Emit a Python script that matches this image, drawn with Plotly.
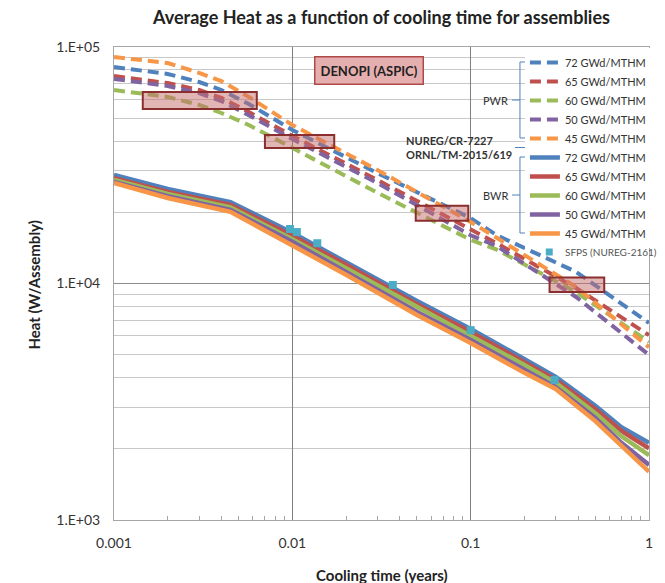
import math
import plotly.graph_objects as go

# ---------------- data ----------------
pwr_years = [0.001, 0.002, 0.003, 0.004, 0.0057, 0.01, 0.03, 0.1, 0.14, 0.39, 1.0]
pwr_72 = [82300, 76900, 71100, 65800, 57400, 44600, 29300, 18900, 16000, 11200, 6810]
pwr_65 = [75400, 70400, 65800, 60900, 53100, 42100, 27400, 16800, 14800, 9570, 6050]
pwr_60 = [65800, 61500, 56900, 52600, 46800, 37400, 24200, 15300, 13900, 9200, 5660]
pwr_50 = [73300, 68400, 63900, 59100, 51500, 40800, 26600, 16000, 14400, 8770, 4990]
pwr_45 = [90700, 85600, 77700, 71800, 61500, 46800, 30200, 18200, 15600, 9660, 5380]

bwr_years = [0.001, 0.002, 0.0045, 0.01, 0.02, 0.05, 0.1, 0.2, 0.3, 0.5, 0.7, 1.0]
bwr_72 = [28800, 25100, 22100, 16400, 12300, 8440, 6430, 4800, 4030, 3040, 2470, 2120]
bwr_65 = [27900, 24400, 21500, 15900, 12000, 8180, 6240, 4660, 3910, 2940, 2380, 2010]
bwr_60 = [27400, 23900, 21000, 15400, 11600, 7960, 6060, 4520, 3800, 2830, 2260, 1880]
bwr_50 = [26900, 23400, 20500, 15000, 11200, 7580, 5770, 4300, 3650, 2700, 2120, 1710]
bwr_45 = [26600, 23000, 20100, 14500, 10900, 7360, 5600, 4190, 3580, 2620, 2060, 1600]

sfps_years = [0.0097, 0.0106, 0.0138, 0.0366, 0.1, 0.296]
sfps_heat = [17000, 16500, 14800, 9860, 6350, 3910]

burnups = ["72 GWd/MTHM", "65 GWd/MTHM", "60 GWd/MTHM", "50 GWd/MTHM", "45 GWd/MTHM"]
colors = ["#4F81BD", "#C0504D", "#9BBB59", "#8064A2", "#F79646"]

# highlighted ranges (DENOPI boxes): x range (years), y range (W)
box_x0 = [0.00145, 0.00702, 0.0492, 0.277]
box_x1 = [0.00632, 0.01718, 0.0970, 0.561]
box_y0 = [54700, 37400, 18400, 9200]
box_y1 = [64500, 42500, 21300, 10600]

x_ticks = [0.001, 0.01, 0.1, 1]
x_ticktext = ["0.001", "0.01", "0.1", "1"]
y_ticks = [1e3, 1e4, 1e5]
y_ticktext = ["1.E+03", "1.E+04", "1.E+05"]

# ---------------- geometry helpers ----------------
W, H = 665, 583
L, R, T, B = 114, 653, 47, 520
XR = (-3, 0)
YR = (3, 5)


def px_x(px):
    return (px - L) / (R - L)


def px_y(py):
    return 1 - (py - T) / (B - T)


def dx(v):
    return (math.log10(v) - XR[0]) / (XR[1] - XR[0])


def dy(v):
    return (math.log10(v) - YR[0]) / (YR[1] - YR[0])


FONT = "Lato, 'Open Sans', Arial, sans-serif"

fig = go.Figure()

pwr_sets = [pwr_72, pwr_65, pwr_60, pwr_50, pwr_45]
bwr_sets = [bwr_72, bwr_65, bwr_60, bwr_50, bwr_45]

for name, col, ys in zip(burnups, colors, pwr_sets):
    fig.add_trace(go.Scatter(
        x=pwr_years, y=ys, mode="lines", name=name,
        line=dict(color=col, width=4, dash="11px,6px"),
        legendgroup="pwr"))

for name, col, ys in zip(burnups, colors, bwr_sets):
    fig.add_trace(go.Scatter(
        x=bwr_years, y=ys, mode="lines", name=name,
        line=dict(color=col, width=4.5),
        legendgroup="bwr"))

fig.add_trace(go.Scatter(
    x=sfps_years, y=sfps_heat, mode="markers", name="SFPS (NUREG-2161)",
    marker=dict(symbol="square", size=8, color="#4BACC6"), showlegend=False))

shapes = []
for a, b, c, d in zip(box_x0, box_x1, box_y0, box_y1):
    shapes.append(dict(type="rect", xref="paper", yref="paper",
                       x0=dx(a), x1=dx(b), y0=dy(c), y1=dy(d),
                       fillcolor="rgba(200,110,110,0.5)",
                       line=dict(color="#8B2E2E", width=2), layer="above"))

# brackets next to the legend
bc = "#4F81BD"


def seg(x0, y0, x1, y1):
    return dict(type="line", xref="paper", yref="paper",
                x0=px_x(x0), y0=px_y(y0), x1=px_x(x1), y1=px_y(y1),
                line=dict(color=bc, width=1), layer="above")


pwr_top, pwr_bot = 62, 138
bwr_top, bwr_bot = 157, 233
bx = 523
shapes += [
    seg(bx, pwr_top, bx, pwr_bot), seg(bx, pwr_top, 531, pwr_top), seg(bx, pwr_bot, 531, pwr_bot),
    seg(515, (pwr_top + pwr_bot) / 2, bx, (pwr_top + pwr_bot) / 2),
    seg(bx, bwr_top, bx, bwr_bot), seg(bx, bwr_top, 531, bwr_top), seg(bx, bwr_bot, 531, bwr_bot),
    seg(515, (bwr_top + bwr_bot) / 2, bx, (bwr_top + bwr_bot) / 2),
    seg(518, (pwr_bot + bwr_top) / 2, 528, (pwr_bot + bwr_top) / 2),
]
# SFPS legend marker
sf_y = 252
shapes.append(dict(type="rect", xref="paper", yref="paper",
                   x0=px_x(549), x1=px_x(556), y0=px_y(sf_y + 3.5), y1=px_y(sf_y - 3.5),
                   fillcolor="#4BACC6", line=dict(width=0), layer="above"))

annotations = [
    dict(text="<b>DENOPI (ASPIC)</b>", xref="paper", yref="paper", x=px_x(371), y=px_y(70),
         xanchor="center", yanchor="middle",
         showarrow=False, font=dict(family=FONT, size=13, color="#222"),
         bgcolor="#E6AFAF", bordercolor="#B04848", borderwidth=1.5, borderpad=5),
    dict(text="PWR", xref="paper", yref="paper", x=px_x(513), y=px_y((pwr_top + pwr_bot) / 2),
         xanchor="right", yanchor="middle", showarrow=False,
         font=dict(family=FONT, size=11, color="#333")),
    dict(text="BWR", xref="paper", yref="paper", x=px_x(513), y=px_y((bwr_top + bwr_bot) / 2),
         xanchor="right", yanchor="middle", showarrow=False,
         font=dict(family=FONT, size=11, color="#333")),
    dict(text="<b>NUREG/CR-7227</b><br><b>ORNL/TM-2015/619</b>", xref="paper", yref="paper",
         x=px_x(517), y=px_y((pwr_bot + bwr_top) / 2), xanchor="right", yanchor="middle", align="left",
         showarrow=False, font=dict(family=FONT, size=11, color="#333")),
    dict(text="SFPS (NUREG-2161)", xref="paper", yref="paper", x=px_x(566), y=px_y(sf_y),
         xanchor="left", yanchor="middle", showarrow=False,
         font=dict(family=FONT, size=10, color="#555")),
    dict(text="<b>Cooling time (years)</b>", xref="paper", yref="paper", x=0.5, y=px_y(575),
         xanchor="center", yanchor="middle",
         showarrow=False, font=dict(family=FONT, size=15, color="#222")),
    dict(text="<b>Heat (W/Assembly)</b>", xref="paper", yref="paper", x=px_x(33), y=px_y(285),
         xanchor="center", yanchor="middle",
         textangle=-90, showarrow=False, font=dict(family=FONT, size=15, color="#222")),
]

minor_x = [m * 10 ** e for e in (-3, -2, -1) for m in range(2, 10)]
minor_y = [m * 10 ** e for e in (3, 4) for m in range(2, 10)]

fig.update_layout(
    width=W, height=H,
    margin=dict(l=L, r=W - R, t=T, b=H - B),
    paper_bgcolor="white", plot_bgcolor="white",
    font=dict(family=FONT, size=13, color="#333"),
    title=dict(text="<b>Average Heat as a function of cooling time for assemblies</b>",
               x=0.5, xref="paper", y=1 - 18 / H, yref="container", xanchor="center", yanchor="middle",
               font=dict(family=FONT, size=18, color="#222")),
    xaxis=dict(type="log", range=list(XR), tickvals=x_ticks, ticktext=x_ticktext,
               showgrid=True, gridcolor="#7F7F7F", gridwidth=1,
               showline=True, linecolor="#A6A6A6", linewidth=1, mirror=True,
               ticks="", ticklabelstandoff=10, zeroline=False,
               tickfont=dict(family=FONT, size=14, color="#333"),
               minor=dict(tickvals=minor_x, ticks="inside", ticklen=4, tickcolor="#A6A6A6", showgrid=False)),
    yaxis=dict(type="log", range=list(YR), tickvals=y_ticks, ticktext=y_ticktext,
               showgrid=True, gridcolor="#8C8C8C", gridwidth=1,
               showline=True, linecolor="#A6A6A6", linewidth=1, mirror=True,
               ticks="", zeroline=False, ticklabelstandoff=10,
               tickfont=dict(family=FONT, size=14, color="#333"),
               minor=dict(tickvals=minor_y, showgrid=True, gridcolor="#C8C8C8", gridwidth=1, ticks="")),
    legend=dict(x=px_x(528), y=px_y(48), xanchor="left", yanchor="top",
                bgcolor="white", borderwidth=0, tracegroupgap=0,
                font=dict(family=FONT, size=11, color="#333"), itemwidth=30),
    shapes=shapes,
    annotations=annotations,
)

fig.write_html("out.html", config={"displayModeBar": False},
               post_script="document.body.style.margin='0';")
